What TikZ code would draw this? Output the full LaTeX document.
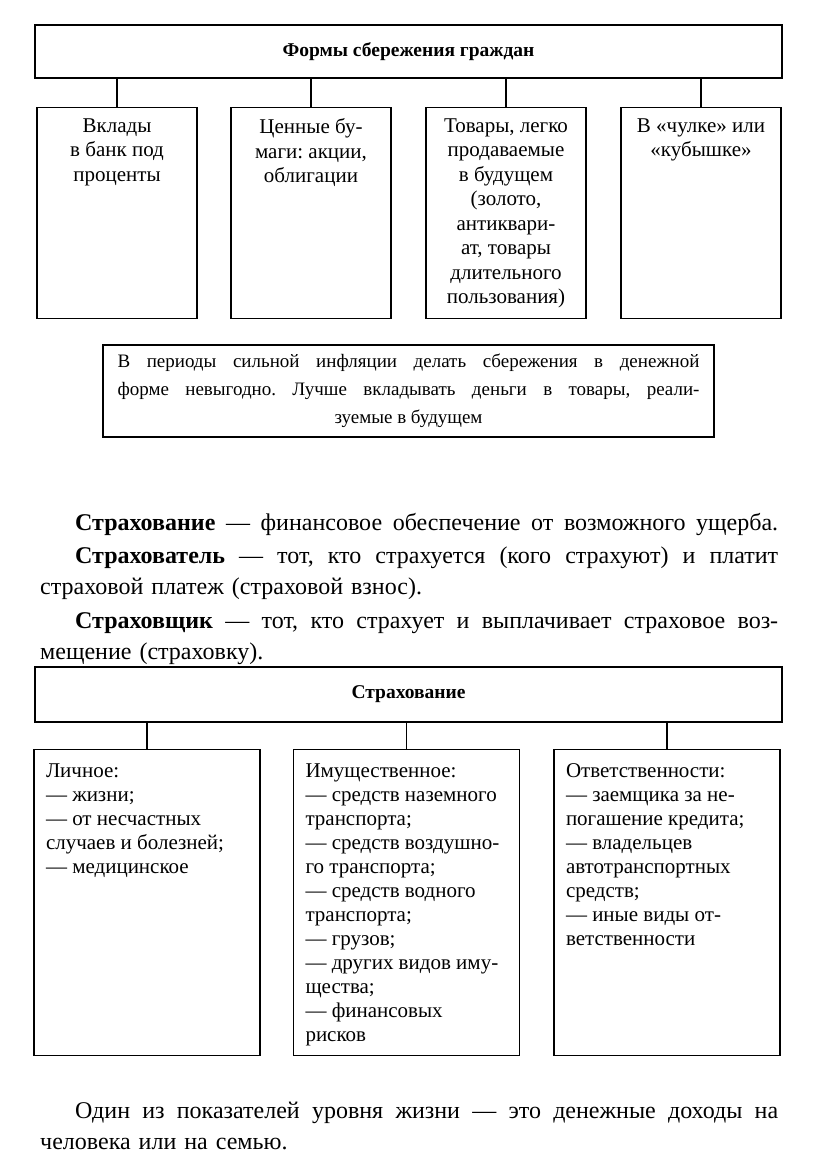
\documentclass[tikz,border=0pt]{standalone}
\usepackage{fontspec}
\setmainfont{Liberation Serif}
\usetikzlibrary{positioning,calc}
\frenchspacing
\newcommand{\fullline}[2]{\makebox[#1][s]{\spaceskip=0pt\xspaceskip=0pt\frenchspacing\relax#2}}

\begin{document}
\begin{tikzpicture}[x=1pt,y=-1pt,
  frame/.style={draw, line width=1.4pt},
  headbox/.style={frame, minimum width=747pt, font=\fontsize{19.5}{22}\selectfont\bfseries},
  formbox/.style={frame, anchor=north, inner xsep=4pt, inner ysep=11pt, font=\fontsize{21}{24.5}\selectfont},
  kindbox/.style={frame, anchor=north, inner xsep=12pt, inner ysep=14pt, font=\fontsize{21}{24}\selectfont},
  notebox/.style={frame, minimum width=611pt, minimum height=92pt, align=center, font=\fontsize{19}{28}\selectfont},
  para/.style={anchor=base west, inner sep=0pt, text width=738pt, font=\fontsize{24}{31}\selectfont},
  link/.style={line width=1.4pt}
]
\useasboundingbox (0,0) rectangle (816,1167);

\node[headbox, minimum height=53pt] (forms) at (408.5,51.5) {Формы сбережения граждан};

\node[formbox] (vklady) at (117,107) {\parbox[c][189pt][t]{152pt}{\centering Вклады\\в банк под\\проценты}};
\node[formbox] (bumagi) at (311,107) {\parbox[c][189pt][t]{152pt}{\centering Ценные бу-\\маги: акции,\\облигации}};
\node[formbox] (tovary) at (506,107) {\parbox[c][189pt][t]{152pt}{\centering Товары, легко\\продаваемые\\в будущем\\(золото,\\антиквари-\\ат, товары\\длительного\\пользования)}};
\node[formbox] (chulok) at (701,107) {\parbox[c][189pt][t]{152pt}{\centering В «чулке» или\\«кубышке»}};

\draw[link] (forms.south -| vklady.north) -- (vklady.north);
\draw[link] (forms.south -| bumagi.north) -- (bumagi.north);
\draw[link] (forms.south -| tovary.north) -- (tovary.north);
\draw[link] (forms.south -| chulok.north) -- (chulok.north);

\node[notebox] (inflation) at (408.5,391) {\fullline{582pt}{В периоды сильной инфляции делать сбережения в денежной}\\\fullline{582pt}{форме невыгодно. Лучше вкладывать деньги в товары, реали-}\\зуемые в будущем};

\node[para] (strah) at (40,530) {\hspace*{35pt}\fullline{703pt}{\textbf{Страхование} — финансовое обеспечение от возможного ущерба.}};
\node[para] (strahovatel) at (40,563) {\hspace*{35pt}\fullline{703pt}{\textbf{Страхователь} — тот, кто страхуется (кого страхуют) и платит}\\страховой платеж (страховой взнос).};
\node[para] (strahovschik) at (40,628) {\hspace*{35pt}\fullline{703pt}{\textbf{Страховщик} — тот, кто страхует и выплачивает страховое воз-}\\мещение (страховку).};

\node[headbox, minimum height=55pt] (insurance) at (408.5,694.5) {Страхование};

\node[kindbox] (lichnoe) at (147,749) {\parbox[c][278pt][t]{202pt}{\raggedright Личное:\\— жизни;\\— от несчастных\\случаев и болезней;\\— медицинское}};
\node[kindbox] (imusch) at (406.5,749) {\parbox[c][278pt][t]{202pt}{\raggedright Имущественное:\\— средств наземного\\транспорта;\\— средств воздушно-\\го транспорта;\\— средств водного\\транспорта;\\— грузов;\\— других видов иму-\\щества;\\— финансовых\\рисков}};
\node[kindbox] (otvet) at (667,749) {\parbox[c][278pt][t]{202pt}{\raggedright Ответственности:\\— заемщика за не-\\погашение кредита;\\— владельцев\\автотранспортных\\средств;\\— иные виды от-\\ветственности}};

\draw[link] (insurance.south -| lichnoe.north) -- (lichnoe.north);
\draw[link] (insurance.south -| imusch.north) -- (imusch.north);
\draw[link] (insurance.south -| otvet.north) -- (otvet.north);

\node[para] (dohody) at (40,1118) {\hspace*{35pt}\fullline{703pt}{Один из показателей уровня жизни — это денежные доходы на}\\человека или на семью.};
\end{tikzpicture}
\end{document}
